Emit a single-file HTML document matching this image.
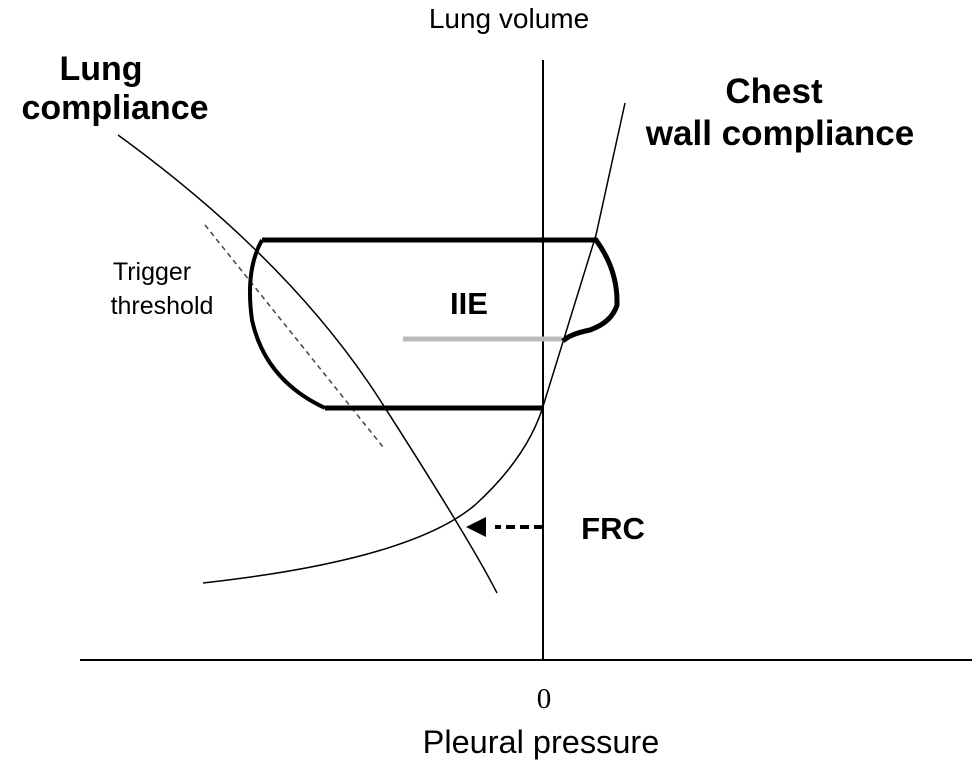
<!DOCTYPE html>
<html><head><style>body{margin:0;background:#fff}svg{display:block}</style></head><body>
<svg width="975" height="765" viewBox="0 0 975 765" xmlns="http://www.w3.org/2000/svg">
<g fill="none" stroke="#000">
<line x1="543" y1="60" x2="543" y2="661" stroke-width="2"/>
<line x1="80" y1="660" x2="972" y2="660" stroke-width="2"/>
<path d="M118,135 Q290,260 380,400 T497,593" stroke-width="1.5"/>
<path d="M203,583 Q410,560 475,505 Q530,455 545,400 L596,235 L625,103" stroke-width="1.5"/>
<line x1="205" y1="225" x2="383" y2="447" stroke-width="1.5" stroke-dasharray="5,4" stroke="#444"/>
<line x1="403" y1="339" x2="562" y2="339" stroke="#bbb" stroke-width="5"/>
<path d="M325,408 L543,408 M262,240 L596,240 Q618,270 617,305 Q612,322 590,330 Q570,334 563,341" stroke-width="5"/>
<path d="M262,240 Q245,270 252,320 Q265,380 325,408" stroke-width="4"/>
<line x1="543" y1="527" x2="495" y2="527" stroke-width="4" stroke-dasharray="9,5"/>
</g>
<polygon points="466,527 486,517 486,537" fill="#000"/>
<g font-family="Liberation Sans, sans-serif" fill="#000">
<text x="509" y="28" font-size="28" text-anchor="middle">Lung volume</text>
<text x="101" y="80" font-size="34" font-weight="bold" text-anchor="middle">Lung</text>
<text x="115" y="119" font-size="34" font-weight="bold" text-anchor="middle">compliance</text>
<text x="774" y="103" font-size="35" font-weight="bold" text-anchor="middle">Chest</text>
<text x="780" y="145" font-size="35" font-weight="bold" text-anchor="middle">wall compliance</text>
<text x="152" y="280" font-size="25" text-anchor="middle">Trigger</text>
<text x="162" y="314" font-size="25" text-anchor="middle">threshold</text>
<text x="469" y="314" font-size="31" font-weight="bold" text-anchor="middle">IIE</text>
<text x="613" y="539" font-size="31" font-weight="bold" text-anchor="middle">FRC</text>
<text x="541" y="753" font-size="32.5" text-anchor="middle">Pleural pressure</text>
</g>
<text x="544" y="708" font-size="29" font-family="Liberation Serif, serif" text-anchor="middle">0</text>
</svg>
</body></html>
